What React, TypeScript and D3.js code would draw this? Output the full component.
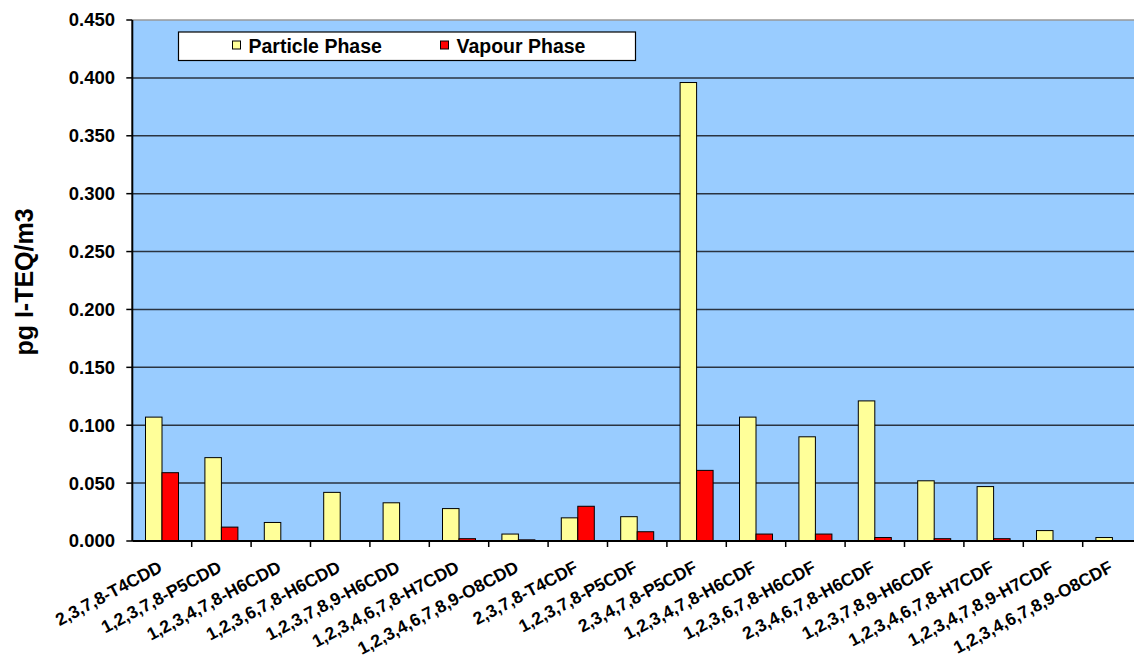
import * as d3 from "d3";

// categories and values
const congeners = [
  "2,3,7,8-T4CDD",
  "1,2,3,7,8-P5CDD",
  "1,2,3,4,7,8-H6CDD",
  "1,2,3,6,7,8-H6CDD",
  "1,2,3,7,8,9-H6CDD",
  "1,2,3,4,6,7,8-H7CDD",
  "1,2,3,4,6,7,8,9-O8CDD",
  "2,3,7,8-T4CDF",
  "1,2,3,7,8-P5CDF",
  "2,3,4,7,8-P5CDF",
  "1,2,3,4,7,8-H6CDF",
  "1,2,3,6,7,8-H6CDF",
  "2,3,4,6,7,8-H6CDF",
  "1,2,3,7,8,9-H6CDF",
  "1,2,3,4,6,7,8-H7CDF",
  "1,2,3,4,7,8,9-H7CDF",
  "1,2,3,4,6,7,8,9-O8CDF",
];
const particlePhase = [
  0.107, 0.072, 0.016, 0.042, 0.033, 0.028, 0.006, 0.02, 0.021, 0.396, 0.107,
  0.09, 0.121, 0.052, 0.047, 0.009, 0.003,
];
const vapourPhase = [
  0.059, 0.012, 0, 0, 0, 0.002, 0.001, 0.03, 0.008, 0.061, 0.006, 0.006,
  0.003, 0.002, 0.002, 0, 0,
];
const seriesNames = ["Particle Phase", "Vapour Phase"];
const seriesColors = ["#FFFF99", "#FF0000"];
const yTicks = [0, 0.05, 0.1, 0.15, 0.2, 0.25, 0.3, 0.35, 0.4, 0.45];

const W = 1134;
const H = 666;
const margin = { left: 132.3, top: 20, right: 1142.1, bottom: 541 };
const font = "'Liberation Sans', Arial, sans-serif";

export default function App() {
  const x = d3
    .scaleBand<string>()
    .domain(congeners)
    .range([margin.left, margin.right])
    .paddingInner(0)
    .paddingOuter(0);
  const xInner = d3
    .scaleBand<string>()
    .domain(seriesNames)
    .range([0, x.bandwidth()])
    .paddingInner(0)
    .paddingOuter(0.8);
  const y = d3.scaleLinear().domain([0, 0.45]).range([margin.bottom, margin.top]);

  const series = [particlePhase, vapourPhase];

  return (
    <svg
      width={W}
      height={H}
      style={{ position: "absolute", left: 0, top: 0, fontFamily: font }}
    >
      {/* plot area */}
      <rect
        x={margin.left}
        y={margin.top}
        width={margin.right - margin.left}
        height={margin.bottom - margin.top}
        fill="#99CCFF"
      />
      <line
        x1={margin.left}
        x2={margin.right}
        y1={margin.top}
        y2={margin.top}
        stroke="#999"
        strokeWidth={1.5}
      />
      {/* gridlines */}
      {yTicks
        .filter((t) => t > 0 && t < 0.45)
        .map((t) => (
          <line
            key={t}
            x1={margin.left}
            x2={margin.right}
            y1={y(t)}
            y2={y(t)}
            stroke="#2a3340"
            strokeWidth={1.5}
          />
        ))}

      {/* bars */}
      {series.map((vals, si) =>
        vals.map((v, i) => {
          if (v <= 0) return null;
          const bx = x(congeners[i])! + xInner(seriesNames[si])!;
          return (
            <rect
              key={`${si}-${i}`}
              x={bx}
              y={y(v)}
              width={xInner.bandwidth()}
              height={y(0) - y(v)}
              fill={seriesColors[si]}
              stroke="#000"
              strokeWidth={1}
            />
          );
        })
      )}

      {/* y axis */}
      <line
        x1={margin.left}
        x2={margin.left}
        y1={margin.top}
        y2={margin.bottom}
        stroke="#000"
        strokeWidth={2}
      />
      {yTicks.map((t) => (
        <g key={t}>
          <line
            x1={margin.left - 6}
            x2={margin.left}
            y1={y(t)}
            y2={y(t)}
            stroke="#000"
            strokeWidth={1.5}
          />
          <text
            x={115}
            y={y(t)}
            dy="0.35em"
            textAnchor="end"
            fontSize={18.5}
            fontWeight="bold"
          >
            {d3.format(".3f")(t)}
          </text>
        </g>
      ))}

      {/* x axis */}
      <line
        x1={margin.left}
        x2={margin.right}
        y1={margin.bottom}
        y2={margin.bottom}
        stroke="#000"
        strokeWidth={2}
      />
      {congeners.map((c, i) => (
        <g key={c}>
          {i > 0 && (
            <line
              x1={x(c)}
              x2={x(c)}
              y1={margin.bottom}
              y2={margin.bottom + 6}
              stroke="#000"
              strokeWidth={1.5}
            />
          )}
          <text
            transform={`translate(${x(c)! + x.bandwidth() / 2 + 1.5},${571}) rotate(-28)`}
            textAnchor="end"
            fontSize={17.5}
            fontWeight="bold"
          >
            {c}
          </text>
        </g>
      ))}

      {/* y axis title */}
      <text
        transform={`translate(33,282) rotate(-90)`}
        textAnchor="middle"
        fontSize={25}
        fontWeight="bold"
      >
        pg I-TEQ/m3
      </text>

      {/* legend */}
      <rect
        x={178.5}
        y={32}
        width={457}
        height={28.5}
        fill="#fff"
        stroke="#000"
        strokeWidth={1.2}
      />
      {seriesNames.map((s, si) => {
        const lx = si === 0 ? 232.5 : 440.5;
        return (
          <g key={s}>
            <rect
              x={lx}
              y={41}
              width={8}
              height={8}
              fill={seriesColors[si]}
              stroke="#000"
              strokeWidth={1}
            />
            <text x={lx + 16} y={53} fontSize={19.5} fontWeight="bold">
              {s}
            </text>
          </g>
        );
      })}
    </svg>
  );
}
